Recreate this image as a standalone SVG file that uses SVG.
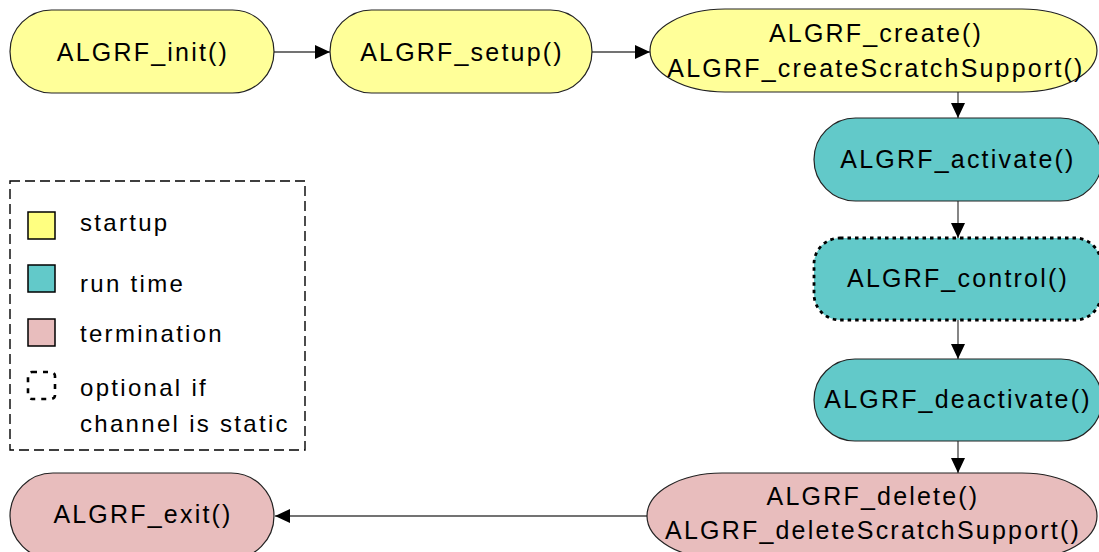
<svg xmlns="http://www.w3.org/2000/svg" width="1099" height="552" viewBox="0 0 1099 552">
<defs>
<marker id="arr" markerUnits="userSpaceOnUse" markerWidth="15" markerHeight="15" viewBox="0 0 15 15" refX="15" refY="7.5" orient="auto">
<path d="M0,0.5 L15,7.5 L0,14.5 Z" fill="#000"/>
</marker>
<style>
text{font-family:"Liberation Sans",Arial,sans-serif;font-size:25px;letter-spacing:2.2px;fill:#000;}
.c{text-anchor:middle;}
.l{font-size:24px;letter-spacing:2.3px;}
.n{stroke:#222;stroke-width:1.2;}
.y{fill:#ffff99;}
.t{fill:#62c9c9;}
.p{fill:#e8bdbd;}
.e{fill:none;stroke:#444;stroke-width:1.3;marker-end:url(#arr);}
</style>
</defs>
<rect width="1099" height="552" fill="#fff"/>
<g id="connectors">
<line class="e" x1="274" y1="52" x2="330" y2="52"/>
<line class="e" x1="592" y1="52" x2="650" y2="52"/>
<line class="e" x1="958" y1="92" x2="958" y2="118"/>
<line class="e" x1="958" y1="201" x2="958" y2="238"/>
<line class="e" x1="958" y1="320" x2="958" y2="359"/>
<line class="e" x1="958" y1="441" x2="958" y2="473"/>
<line class="e" x1="647" y1="516" x2="275" y2="516"/>
</g>
<g id="init">
<rect class="n y" x="10" y="10" width="264" height="83" rx="41.5"/>
<text class="c" x="143" y="61">ALGRF_init()</text>
</g>
<g id="setup">
<rect class="n y" x="330" y="10" width="262" height="83" rx="41.5"/>
<text class="c" x="462" y="61">ALGRF_setup()</text>
</g>
<g id="create">
<rect class="n y" x="650" y="9" width="447" height="83" rx="75" ry="41.5"/>
<text class="c" x="876" y="42">ALGRF_create()</text>
<text class="c" x="876" y="77">ALGRF_createScratchSupport()</text>
</g>
<g id="activate">
<rect class="n t" x="814" y="118" width="288" height="83" rx="41.5"/>
<text class="c" x="958" y="168">ALGRF_activate()</text>
</g>
<g id="control">
<rect class="t" x="814" y="238" width="287" height="82" rx="26" stroke="#000" stroke-width="2.8" stroke-dasharray="3.5 4"/>
<text class="c" x="958" y="287">ALGRF_control()</text>
</g>
<g id="deactivate">
<rect class="n t" x="814" y="359" width="288" height="82" rx="41"/>
<text class="c" x="958" y="408">ALGRF_deactivate()</text>
</g>
<g id="delete">
<rect class="n p" x="647" y="473" width="450" height="86" rx="75" ry="43"/>
<text class="c" x="873" y="505">ALGRF_delete()</text>
<text class="c" x="873" y="539">ALGRF_deleteScratchSupport()</text>
</g>
<g id="exit">
<rect class="n p" x="10" y="473" width="264" height="86" rx="43"/>
<text class="c" x="143" y="523">ALGRF_exit()</text>
</g>
<g id="legend">
<rect x="10" y="181" width="295" height="269" fill="none" stroke="#000" stroke-width="1.4" stroke-dasharray="10 5"/>
<rect x="28" y="212" width="27" height="27" fill="#ffff80" stroke="#000" stroke-width="1.5"/>
<text class="l" x="80" y="231">startup</text>
<rect x="28" y="265" width="27" height="27" fill="#62c9c9" stroke="#000" stroke-width="1.5"/>
<text class="l" x="80" y="292">run time</text>
<rect x="28" y="319" width="27" height="27" fill="#e8bdbd" stroke="#000" stroke-width="1.5"/>
<text class="l" x="80" y="342">termination</text>
<rect x="28" y="372" width="27" height="27" rx="4" fill="none" stroke="#000" stroke-width="2.6" stroke-dasharray="5 6"/>
<text class="l" x="80" y="396">optional if</text>
<text class="l" x="80" y="432">channel is static</text>
</g>
</svg>
